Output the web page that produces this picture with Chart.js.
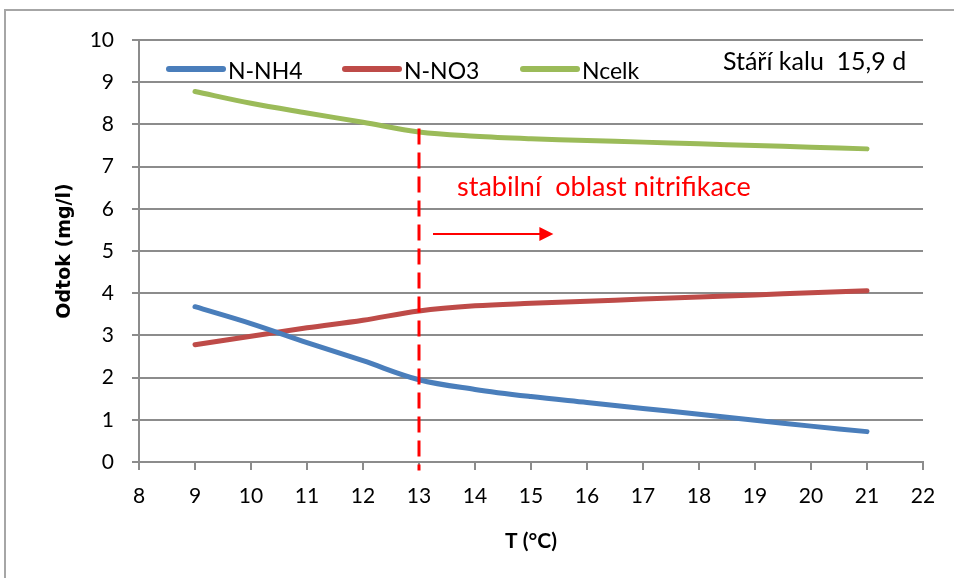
<!DOCTYPE html>
<html>
<head>
<meta charset="utf-8">
<title>Odtok vs. T</title>
<script src="https://cdn.jsdelivr.net/npm/chart.js@4.4.0/dist/chart.umd.min.js"></script>
<style>
  html, body { margin: 0; padding: 0; background: #fff; }
  canvas { display: block; }
</style>
</head>
<body>
<canvas id="chart" width="954" height="578"></canvas>
<script>
// temperature (°C) and effluent concentrations (mg/l)
const teploty = [9, 10, 11, 12, 13, 14, 15, 16, 17, 18, 19, 20, 21];
const nh4 =   [3.68, 3.28, 2.83, 2.40, 1.95, 1.72, 1.55, 1.41, 1.27, 1.13, 0.99, 0.85, 0.72];
const no3 =   [2.78, 2.98, 3.18, 3.36, 3.58, 3.70, 3.76, 3.81, 3.86, 3.91, 3.96, 4.01, 4.06];
const ncelk = [8.78, 8.50, 8.27, 8.05, 7.82, 7.72, 7.66, 7.62, 7.58, 7.54, 7.50, 7.46, 7.42];

const nazvy = ['N-NH4', 'N-NO3', 'Ncelk'];
const barvy = ['#4a7ebb', '#be4b48', '#9bbb59'];

const xTicks = [8, 9, 10, 11, 12, 13, 14, 15, 16, 17, 18, 19, 20, 21, 22];
const yTicks = [0, 1, 2, 3, 4, 5, 6, 7, 8, 9, 10];

// start of the stable nitrification zone
const hraniceT = 13;
const hraniceHorni = 7.9;

const toPoints = (ys) => teploty.map((t, i) => ({ x: t, y: ys[i] }));

const textFont = 'Lato, "Open Sans", sans-serif';

const popisky = {
  id: 'popisky',
  beforeDraw(chart) {
    const ctx = chart.ctx;
    ctx.save();
    ctx.fillStyle = '#fff';
    ctx.fillRect(0, 0, chart.width, chart.height);
    // outer frame
    ctx.strokeStyle = '#a6a6a6';
    ctx.lineWidth = 2;
    ctx.strokeRect(5, 10, chart.width + 10, chart.height + 10);
    ctx.restore();
  },
  afterDatasetsDraw(chart) {
    const ctx = chart.ctx;
    const xs = chart.scales.x, ys = chart.scales.y;
    ctx.save();

    // dashed vertical marker
    const xm = xs.getPixelForValue(hraniceT);
    ctx.strokeStyle = '#ff0000';
    ctx.lineWidth = 3;
    ctx.setLineDash([16, 8]);
    ctx.beginPath();
    ctx.moveTo(xm, ys.getPixelForValue(hraniceHorni));
    ctx.lineTo(xm, ys.getPixelForValue(-0.2));
    ctx.stroke();
    ctx.setLineDash([]);

    // arrow
    const ay = ys.getPixelForValue(5.4);
    const ax0 = xs.getPixelForValue(13.25), ax1 = xs.getPixelForValue(15.4);
    ctx.lineWidth = 2;
    ctx.beginPath();
    ctx.moveTo(ax0, ay);
    ctx.lineTo(ax1 - 12, ay);
    ctx.stroke();
    ctx.fillStyle = '#ff0000';
    ctx.beginPath();
    ctx.moveTo(ax1, ay);
    ctx.lineTo(ax1 - 14, ay - 7);
    ctx.lineTo(ax1 - 14, ay + 7);
    ctx.closePath();
    ctx.fill();

    ctx.font = '27px ' + textFont;
    ctx.textBaseline = 'middle';
    ctx.textAlign = 'left';
    ctx.fillText('stabilní  oblast nitrifikace', xs.getPixelForValue(13.68), ys.getPixelForValue(6.5));

    ctx.fillStyle = '#000';
    ctx.font = '25px ' + textFont;
    ctx.textAlign = 'right';
    ctx.fillText('Stáří kalu  15,9 d', xs.getPixelForValue(21.7), ys.getPixelForValue(9.48));

    // legend
    const legendX = [169, 345, 523];
    const ly = 69;
    ctx.font = '23px ' + textFont;
    ctx.textAlign = 'left';
    ctx.lineCap = 'round';
    chart.data.datasets.forEach((ds, i) => {
      ctx.strokeStyle = ds.borderColor;
      ctx.lineWidth = 6;
      ctx.beginPath();
      ctx.moveTo(legendX[i], ly);
      ctx.lineTo(legendX[i] + 54, ly);
      ctx.stroke();
      ctx.fillStyle = '#000';
      ctx.fillText(ds.label, legendX[i] + 59, ly + 3);
    });
    ctx.restore();
  }
};

new Chart(document.getElementById('chart'), {
  type: 'line',
  data: {
    datasets: [nh4, no3, ncelk].map((ys, i) => ({
      label: nazvy[i],
      data: toPoints(ys),
      borderColor: barvy[i],
      backgroundColor: barvy[i],
      borderWidth: 5,
      pointRadius: 0,
      tension: 0.35,
      borderCapStyle: 'round'
    }))
  },
  options: {
    responsive: false,
    animation: false,
    layout: { padding: { left: 50, right: 31, top: 40, bottom: 20 } },
    plugins: {
      legend: { display: false },
      tooltip: { enabled: false }
    },
    scales: {
      x: {
        type: 'linear',
        min: 8,
        max: 22,
        afterBuildTicks: (s) => { s.ticks = xTicks.map(v => ({ value: v })); },
        afterFit: (s) => { s.height = 96; },
        grid: { drawOnChartArea: false, drawTicks: true, tickLength: 8, color: '#8c8c8c', lineWidth: 2 },
        border: { color: '#8c8c8c', width: 2 },
        ticks: { color: '#000', font: { family: textFont, size: 21 }, padding: 14, maxRotation: 0 },
        title: { display: true, text: 'T (°C)', color: '#000', font: { family: textFont, size: 21, weight: 'bold' }, padding: { top: 4, bottom: 4 } }
      },
      y: {
        min: 0,
        max: 10,
        afterBuildTicks: (s) => { s.ticks = yTicks.map(v => ({ value: v })); },
        afterFit: (s) => { s.width = 89; },
        grid: { color: '#8c8c8c', lineWidth: 2, tickLength: 7 },
        border: { color: '#8c8c8c', width: 2 },
        ticks: { color: '#000', font: { family: textFont, size: 21 }, padding: 18 },
        title: { display: true, text: 'Odtok (mg/l)', color: '#000', font: { family: '"DejaVu Sans", sans-serif', size: 19, weight: 'bold' }, padding: { top: 4, bottom: 4 } }
      }
    }
  },
  plugins: [popisky]
});
</script>
</body>
</html>
